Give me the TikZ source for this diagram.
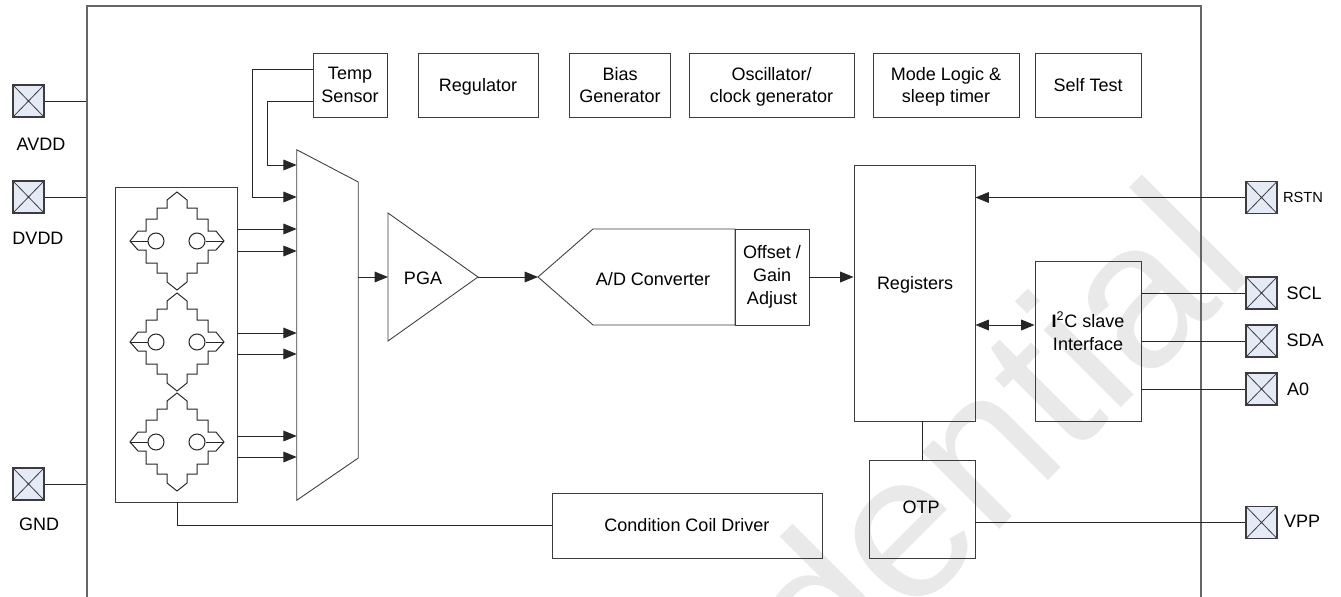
\documentclass[tikz,border=0pt]{standalone}
\usepackage{fontspec}
\setmainfont{Liberation Sans}
\usetikzlibrary{arrows.meta,positioning,calc}
\def\px{.75pt}
\newcommand{\nodepth}[1]{\raisebox{0pt}[\height][0pt]{#1}}
\definecolor{padblue}{RGB}{228,234,246}
\definecolor{markgray}{RGB}{233,233,233}
\definecolor{linegray}{RGB}{60,60,60}
\tikzset{>={Triangle[length=10pt,width=8pt]},
         blockbox/.style={draw=linegray,line width=.65pt,inner sep=0pt,align=center,
                          font=\fontsize{13.5}{17}\selectfont},
         blocktext/.style={inner sep=0pt,align=center,font=\fontsize{13.5}{17}\selectfont},
         padbox/.style={draw=linegray,line width=.8pt,fill=padblue,inner sep=0pt,
                        minimum width=31*\px,minimum height=32*\px,
                        path picture={\draw[line width=.6pt]
                          (path picture bounding box.north west) -- (path picture bounding box.south east)
                          (path picture bounding box.north east) -- (path picture bounding box.south west);}},
         wire/.style={line width=.75pt,draw=black!85},
         sigline/.style={wire,->}}

\begin{document}
\begin{tikzpicture}[x=.75pt,y=-.75pt]
  \useasboundingbox (0,0) rectangle (1341,596);
  \clip (0,0) rectangle (1341,596);
  % watermark
  \node[anchor=base east,rotate=45,text=markgray,inner sep=0pt,font=\fontsize{155}{155}\selectfont]
    (mark) at (1258,271) {Confidential};
  % chip outline
  \node[draw=black!60,line width=.8pt,minimum width=1114*\px,minimum height=600*\px,inner sep=0pt]
    (chip) at (644,306) {};
  % top row
  \node[blockbox,minimum width=74*\px,minimum height=64*\px] (temp) at (350,85) {Temp\\Sensor};
  \node[blockbox,minimum width=120*\px,minimum height=64*\px] (reg) at (478,85) {\nodepth{Regulator}};
  \node[blockbox,minimum width=101*\px,minimum height=64*\px] (bias) at (620,85) {Bias\\Generator};
  \node[blockbox,minimum width=165*\px,minimum height=64*\px] (osc) at (771.5,85) {Oscillator/\\\nodepth{clock generator}};
  \node[blockbox,minimum width=146*\px,minimum height=64*\px] (mode) at (946,85) {Mode Logic \&\\\nodepth{sleep timer}};
  \node[blockbox,minimum width=106*\px,minimum height=64*\px] (selftest) at (1088,85) {Self Test};
  % sensor block
  \node[blockbox,minimum width=122*\px,minimum height=315*\px] (sensor) at (176,344.5) {};
  \foreach \cy in {241,342,442} {
    \begin{scope}[shift={(177,\cy)}]
      \draw[wire] (0,-49) -- (10,-41) -- (10,-33) -- (20,-33) -- (20,-22) -- (31,-22) -- (31,-10) -- (39,-10) -- (47,0)
        -- (39,9) -- (31,9) -- (31,22) -- (20,22) -- (20,32) -- (10,32) -- (10,41) -- (0,49)
        -- (-10,41) -- (-10,32) -- (-20,32) -- (-20,22) -- (-31,22) -- (-31,9) -- (-39,9) -- (-47,0)
        -- (-39,-10) -- (-31,-10) -- (-31,-22) -- (-20,-22) -- (-20,-33) -- (-10,-33) -- (-10,-41) -- cycle;
      \node[circle,draw=black!85,line width=.75pt,minimum size=16*\px,inner sep=0pt] (hl\cy) at (-21,0) {};
      \node[circle,draw=black!85,line width=.75pt,minimum size=16*\px,inner sep=0pt] (hr\cy) at (20,0) {};
      \coordinate (tl\cy) at (-47,0);
      \coordinate (tr\cy) at (47,0);
      \draw[wire] (hl\cy) -- (tl\cy) (hr\cy) -- (tr\cy);
    \end{scope}
  }
  % mux
  \node[minimum width=61*\px,minimum height=350*\px,inner sep=0pt] (mux) at (327.5,325) {};
  \draw[draw=linegray,line width=.65pt] (mux.north west) -- (mux.east |- 0,182) -- (mux.east |- 0,458)
    -- (mux.south west) -- cycle;
  \foreach \y in {229,251,333,354,436,457}
    \draw[sigline] (sensor.east |- 0,\y) -- (mux.west |- 0,\y);
  \draw[sigline] (temp.west |- 0,69) -- (252,69) -- (252,197) -- (mux.west |- 0,197);
  \draw[sigline] (temp.west |- 0,101) -- (267,101) -- (267,165) -- (mux.west |- 0,165);
  % PGA
  \coordinate (pgain) at (388,277);
  \coordinate (pgatip) at (478,277);
  \draw[draw=linegray,line width=.65pt] (388,213) -- (pgatip) -- (388,341) -- cycle;
  \node[blocktext] (pga) at (423,278) {\nodepth{PGA}};
  \draw[sigline] (mux.east |- pgain) -- (pgain);
  % converter
  \coordinate (adctip) at (538,277);
  \draw[draw=linegray,line width=.65pt] (adctip) -- (593,229) -- (735,229) -- (735,325) -- (593,325) -- cycle;
  \node[blocktext] (adc) at (653,279) {A/D Converter};
  \node[blockbox,minimum width=74*\px,minimum height=96*\px] (offset) at (772,277) {Offset /\\Gain\\Adjust};
  \draw[sigline] (pgatip) -- (adctip);
  % right side blocks
  \node[blockbox,minimum width=121*\px,minimum height=256*\px] (registers) at (914.5,293) {};
  \node[blocktext] (regtext) at (915,283) {\nodepth{Registers}};
  \node[blockbox,minimum width=106*\px,minimum height=160*\px] (iic) at (1088,341) {};
  \node[blocktext] (iictext) at (1088,331) {\textbf{I}\textsuperscript{2}C slave\\Interface};
  \node[blockbox,minimum width=106*\px,minimum height=98*\px] (otp) at (922,509) {};
  \node[blocktext] (otptext) at (921,507) {OTP};
  \node[blockbox,minimum width=270*\px,minimum height=65*\px] (coil) at (687,525.5) {Condition Coil Driver};
  \draw[sigline] (offset.east) -- (registers.west |- offset.east);
  \draw[wire,<->] (registers.east |- 0,325) -- (iic.west |- 0,325);
  \draw[wire] (registers.south -| otp.north) -- (otp.north);
  \draw[wire] (sensor.south) ++(1,0) |- (coil.west);
  % pads
  \node[padbox] (avdd) at (28.5,101) {};
  \node[padbox] (dvdd) at (28.5,197) {};
  \node[padbox] (gnd) at (28.5,484) {};
  \node[padbox] (rstn) at (1261.5,197.5) {};
  \node[padbox] (scl) at (1261.5,293) {};
  \node[padbox] (sda) at (1261.5,341) {};
  \node[padbox] (azero) at (1261.5,389) {};
  \node[padbox] (vpp) at (1261.5,522.5) {};
  \foreach \p in {avdd,dvdd,gnd}
    \draw[wire] (\p.east) -- (chip.west |- \p.east);
  \draw[sigline] (rstn.west) -- (registers.east |- rstn.west);
  \draw[wire] (iic.east |- scl.west) -- (scl.west);
  \draw[wire] (iic.east |- sda.west) -- (sda.west);
  \draw[wire] (iic.east |- azero.west) -- (azero.west);
  \draw[wire] (otp.east |- vpp.west) -- (vpp.west);
  % pad names
  \node[blocktext] (avddname) at (41,144) {AVDD};
  \node[blocktext] (dvddname) at (38,238) {DVDD};
  \node[blocktext] (gndname) at (39,524) {GND};
  \node[blocktext,font=\fontsize{11}{13}\selectfont] (rstnname) at (1303,197) {RSTN};
  \node[blocktext] (sclname) at (1304,293) {SCL};
  \node[blocktext] (sdaname) at (1305,340) {SDA};
  \node[blocktext] (azeroname) at (1298,389) {A0};
  \node[blocktext] (vppname) at (1302,521) {VPP};
\end{tikzpicture}
\end{document}
